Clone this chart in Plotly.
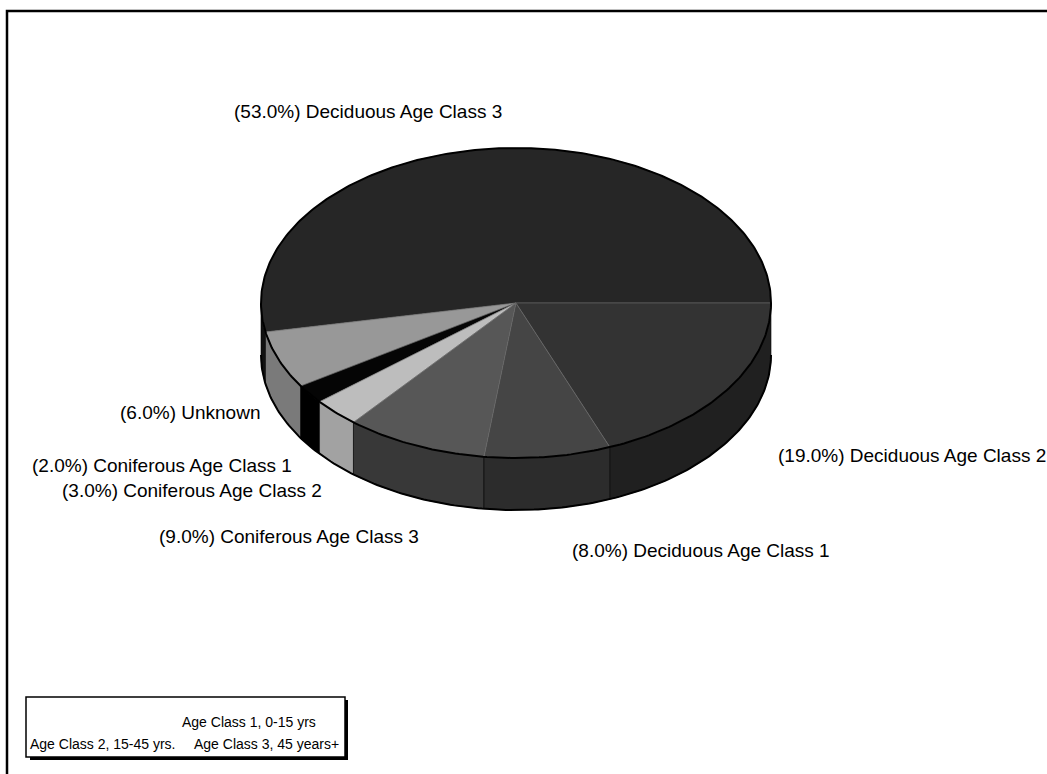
import numpy as np
import plotly.graph_objects as go

# Land-cover shares by forest type and age class (percent), in pie order
categories = ["Deciduous Age Class 3", "Unknown", "Coniferous Age Class 1",
              "Coniferous Age Class 2", "Coniferous Age Class 3",
              "Deciduous Age Class 1", "Deciduous Age Class 2"]
shares = [53.0, 6.0, 2.0, 3.0, 9.0, 8.0, 19.0]

# Legend text describing the age classes
age_class_notes = ["Age Class 1, 0-15 yrs", "Age Class 2, 15-45 yrs.", "Age Class 3, 45 years+"]

# Shading per slice: (top face, side face)
top_colors = ["#262626", "#989898", "#050505", "#bdbdbd", "#575757", "#454545", "#333333"]
side_colors = ["#111111", "#7a7a7a", "#000000", "#a2a2a2", "#383838", "#2c2c2c", "#202020"]

W, H = 1047, 774
CX, CY = 516, 303          # centre of the top ellipse
RA, RB = 255, 155          # ellipse radii
DEPTH = 52                 # thickness of the tilted disc
FONT = "Liberation Sans, Arial, sans-serif"


def ell(theta_deg, dy=0.0):
    t = np.radians(theta_deg)
    return CX + RA * np.cos(t), CY - RB * np.sin(t) + dy


fig = go.Figure()

# slice boundaries (counter-clockwise from 3 o'clock)
bounds = np.concatenate([[0.0], np.cumsum(shares)]) / sum(shares) * 360.0

# visible rim (front half: 180..360 degrees)
for i in range(len(shares)):
    a0, a1 = max(bounds[i], 180.0), min(bounds[i + 1], 360.0)
    if a1 <= a0:
        continue
    th = np.linspace(a0, a1, 80)
    xt, yt = ell(th)
    xb, yb = ell(th[::-1], DEPTH)
    fig.add_trace(go.Scatter(
        x=np.concatenate([xt, xb, xt[:1]]), y=np.concatenate([yt, yb, yt[:1]]),
        mode="lines", fill="toself", fillcolor=side_colors[i],
        line=dict(color="#000000", width=0.6), hoverinfo="skip", showlegend=False))

# top faces
for i in range(len(shares)):
    th = np.linspace(bounds[i], bounds[i + 1], 200)
    xt, yt = ell(th)
    fig.add_trace(go.Scatter(
        x=np.concatenate([[CX], xt, [CX]]), y=np.concatenate([[CY], yt, [CY]]),
        mode="lines", fill="toself", fillcolor=top_colors[i],
        line=dict(color="#6a6a6a", width=0.6), hoverinfo="skip",
        name=categories[i], showlegend=False))

# outer outline of the disc
th = np.linspace(0, 360, 400)
xo, yo = ell(th)
fig.add_trace(go.Scatter(x=xo, y=yo, mode="lines", line=dict(color="#000000", width=2),
                         hoverinfo="skip", showlegend=False))
thf = np.linspace(180, 360, 200)
xf, yf = ell(thf, DEPTH)
fig.add_trace(go.Scatter(x=xf, y=yf, mode="lines", line=dict(color="#000000", width=2),
                         hoverinfo="skip", showlegend=False))

# slice labels
label_pos = [(232, 111), (118, 412), (30, 465), (60, 490),
             (157, 536), (570, 550), (776, 455)]
annotations = []
for name, v, (lx, ly) in zip(categories, shares, label_pos):
    annotations.append(dict(x=lx, y=ly, xref="x", yref="y", xanchor="left", yanchor="middle",
                            text=f"({v:.1f}%) {name}", showarrow=False,
                            font=dict(family=FONT, size=19, color="#000000")))

# age class key
annotations.append(dict(x=318, y=722, xref="x", yref="y", xanchor="right", yanchor="middle",
                        text=age_class_notes[0], showarrow=False,
                        font=dict(family=FONT, size=14, color="#000000")))
annotations.append(dict(x=28, y=744, xref="x", yref="y", xanchor="left", yanchor="middle",
                        text=age_class_notes[1], showarrow=False,
                        font=dict(family=FONT, size=14, color="#000000")))
annotations.append(dict(x=341, y=744, xref="x", yref="y", xanchor="right", yanchor="middle",
                        text=age_class_notes[2], showarrow=False,
                        font=dict(family=FONT, size=14, color="#000000")))

shapes = [
    # outer frame
    dict(type="rect", xref="x", yref="y", x0=7, y0=11, x1=1060, y1=790,
         line=dict(color="#000000", width=2.5)),
    # key box shadow and box
    dict(type="rect", xref="x", yref="y", x0=30, y0=700, x1=348, y1=760,
         line=dict(width=0), fillcolor="#000000"),
    dict(type="rect", xref="x", yref="y", x0=26, y0=697, x1=345, y1=757,
         line=dict(color="#000000", width=1.5), fillcolor="#ffffff"),
]

fig.update_layout(
    width=W, height=H, margin=dict(l=0, r=0, t=0, b=0),
    paper_bgcolor="#ffffff", plot_bgcolor="#ffffff",
    xaxis=dict(range=[0, W], visible=False, fixedrange=True),
    yaxis=dict(range=[H, 0], visible=False, fixedrange=True),
    annotations=annotations, shapes=shapes,
)

fig.write_html("out.html")
